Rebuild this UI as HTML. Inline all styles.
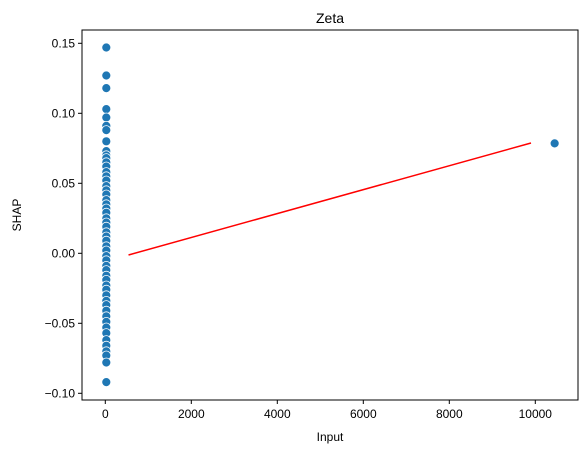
<!DOCTYPE html>
<html><head><meta charset="utf-8"><style>
body{margin:0;background:#fff;}
svg text{font-family:"Liberation Sans","DejaVu Sans",sans-serif;fill:#000;}
</style></head><body>
<svg id="chart" width="587" height="453">
<rect width="587" height="453" fill="#fff"/>
<g id="grid"></g>
<g id="marks"></g>
<rect x="82" y="30" width="496" height="370" fill="none" stroke="#000" stroke-width="1"/>
<text x="330" y="23" font-size="14" text-anchor="middle">Zeta</text>
<text x="330" y="441" font-size="12" text-anchor="middle">Input</text>
<text transform="translate(21,215) rotate(-90)" font-size="12" text-anchor="middle">SHAP</text>
</svg>
<script>
const xTicks=[0,2000,4000,6000,8000,10000];
const yTicks=[-0.10,-0.05,0.00,0.05,0.10,0.15];
const yTickLabels=["−0.10","−0.05","0.00","0.05","0.10","0.15"];
const pointX=[0,0,0,0,0,0,0,0,0,0,0,0,0,0,0,0,0,0,0,0,0,0,0,0,0,0,0,0,0,0,0,0,0,0,0,0,0,0,0,0,0,0,0,0,0,0,0,0,0,10450];
const pointY=[0.147,0.127,0.118,0.103,0.097,0.091,0.088,0.080,0.073,0.070,0.068,0.065,0.062,0.058,0.055,0.052,0.048,0.045,0.042,0.038,0.035,0.032,0.029,0.025,0.022,0.019,0.015,0.012,0.009,0.005,0.002,-0.002,-0.005,-0.009,-0.012,-0.016,-0.019,-0.023,-0.026,-0.030,-0.034,-0.037,-0.041,-0.045,-0.049,-0.053,-0.057,-0.062,-0.066,0.0785];
const extraY=[-0.070,-0.073,-0.078,-0.092];
const lineX=[540,9900];
const lineY=[-0.0012,0.0788];
const xs=v=>105.3+v*(430/10000);
const ys=v=>253.3-v*(70/0.05);
const svg=document.getElementById('chart');
const NS='http://www.w3.org/2000/svg';
const marks=document.getElementById('marks');
function mk(tag,attrs,parent){const e=document.createElementNS(NS,tag);for(const k in attrs)e.setAttribute(k,attrs[k]);parent.appendChild(e);return e;}
xTicks.forEach(t=>{
 const l=mk('line',{x1:xs(t),x2:xs(t),y1:400,y2:404,stroke:'#000'},svg);
 
 
 const tx=mk('text',{x:xs(t),y:418,'font-size':12,'text-anchor':'middle'},svg);
 tx.textContent=String(t);
 
 
});
yTicks.forEach((t,i)=>{
 const l=mk('line',{x1:78,x2:82,y1:ys(t),y2:ys(t),stroke:'#000'},svg);
 
 
 const tx=mk('text',{x:75,y:ys(t)+4,'font-size':12,'text-anchor':'end'},svg);
 tx.textContent=yTickLabels[i];
 
 
});
const allX=pointX.concat(extraY.map(()=>0));
const allY=pointY.concat(extraY);
allY.forEach((v,i)=>{
 const c=mk('circle',{cx:xs(allX[i])+(allX[i]===0?1:0),cy:ys(v),r:4.5,fill:'#1f77b4',stroke:'#fff','stroke-width':0.8},marks);
 
 
});
const ln=mk('line',{x1:xs(lineX[0]),y1:ys(lineY[0]),x2:xs(lineX[1]),y2:ys(lineY[1]),stroke:'#ff0000','stroke-width':1.5},marks);


</script>
</body></html>
